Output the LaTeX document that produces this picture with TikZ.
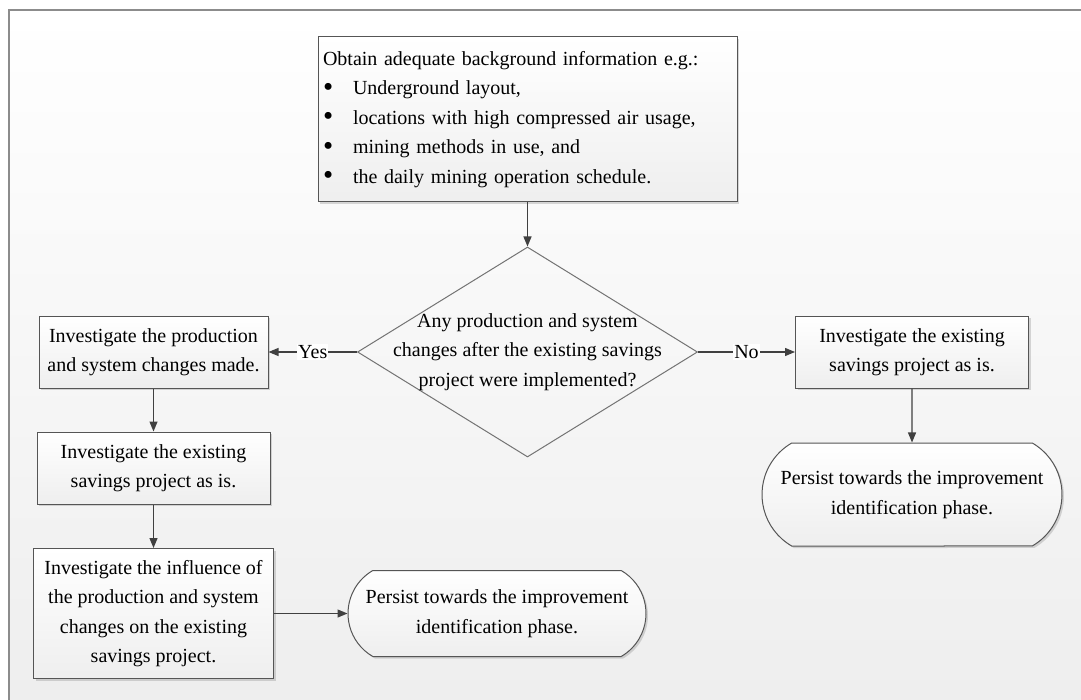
\documentclass[tikz,border=0pt]{standalone}
\usepackage{fontspec}
\setmainfont{Liberation Serif}
\usepackage{tikz}
\usetikzlibrary{arrows.meta, shapes.geometric, shapes.misc, shadows}

\definecolor{edgegray}{RGB}{85,85,85}
\definecolor{arrowgray}{RGB}{64,64,64}
\definecolor{framegray}{RGB}{140,140,140}
\definecolor{bgbottom}{RGB}{238,238,238}
\newcommand{\bul}{\makebox[15pt][l]{\raisebox{-0.6pt}{\scalebox{1.45}{\textbullet}}}}

\begin{document}
\begin{tikzpicture}[x=0.5pt, y=-0.5pt, >={Triangle[length=5pt, width=4pt]},
  font=\fontsize{10}{14.75}\selectfont,
  box/.style={draw=edgegray, line width=0.5pt, top color=white, bottom color=gray!13,
    drop shadow={shadow xshift=1pt, shadow yshift=-1pt, opacity=0.3},
    align=center, inner sep=2pt},
  decision/.style={diamond, draw=gray!90!black, line width=0.5pt, align=center,
    aspect=1.62, inner sep=-8pt, minimum width=170pt, minimum height=105pt},
  finish/.style={box, rounded rectangle, rounded rectangle arc length=120},
  flow/.style={->, draw=arrowgray, line width=0.6pt}]
  \useasboundingbox (0,0) rectangle (1081,700);
  % background and frame
  \shade[top color=white, bottom color=bgbottom] (8.5,10.5) rectangle (1081,700);
  \draw[framegray, line width=1pt] (1081,10.5) -- (8.5,10.5) -- (8.5,700);

  \node[box, align=left, text width=204.5pt, inner xsep=2.5pt, minimum height=82.5pt]
    (info) at (527.5,119.5) {Obtain adequate background information e.g.:\\
    \bul Underground layout,\\
    \bul locations with high compressed air usage,\\
    \bul mining methods in use, and\\
    \bul the daily mining operation schedule.};
  \node[decision] (ask) at (527.5,352) {Any production and system\\
    changes after the existing savings\\ project were implemented?};

  \node[box, minimum width=114.5pt, minimum height=36pt] (change) at (153.5,352)
    {Investigate the production\\ and system changes made.};
  \node[box, minimum width=116.5pt, minimum height=36pt] (exist) at (153.5,468)
    {Investigate the existing\\ savings project as is.};
  \node[box, minimum width=120pt, minimum height=65pt] (influence) at (153.5,613.5)
    {Investigate the influence of\\ the production and system\\
    changes on the existing\\ savings project.};
  \node[finish, minimum width=153pt, minimum height=43pt] (donel) at (497,613.5)
    {Persist towards the improvement\\ identification phase.};

  \node[box, minimum width=116.5pt, minimum height=36pt] (asis) at (912,352)
    {Investigate the existing\\ savings project as is.};
  \node[finish, minimum width=154pt, minimum height=51.5pt] (doner) at (912,494.5)
    {Persist towards the improvement\\ identification phase.};

  \draw[flow] (info) -- (ask);
  \draw[flow] (ask) -- node[fill=white, inner sep=0.5pt] {Yes} (change);
  \draw[flow] (ask) -- node[fill=white, inner sep=0.5pt] {No} (asis);
  \draw[flow] (change) -- (exist);
  \draw[flow] (exist) -- (influence);
  \draw[flow] (influence) -- (donel);
  \draw[flow] (asis) -- (doner);
\end{tikzpicture}
\end{document}
